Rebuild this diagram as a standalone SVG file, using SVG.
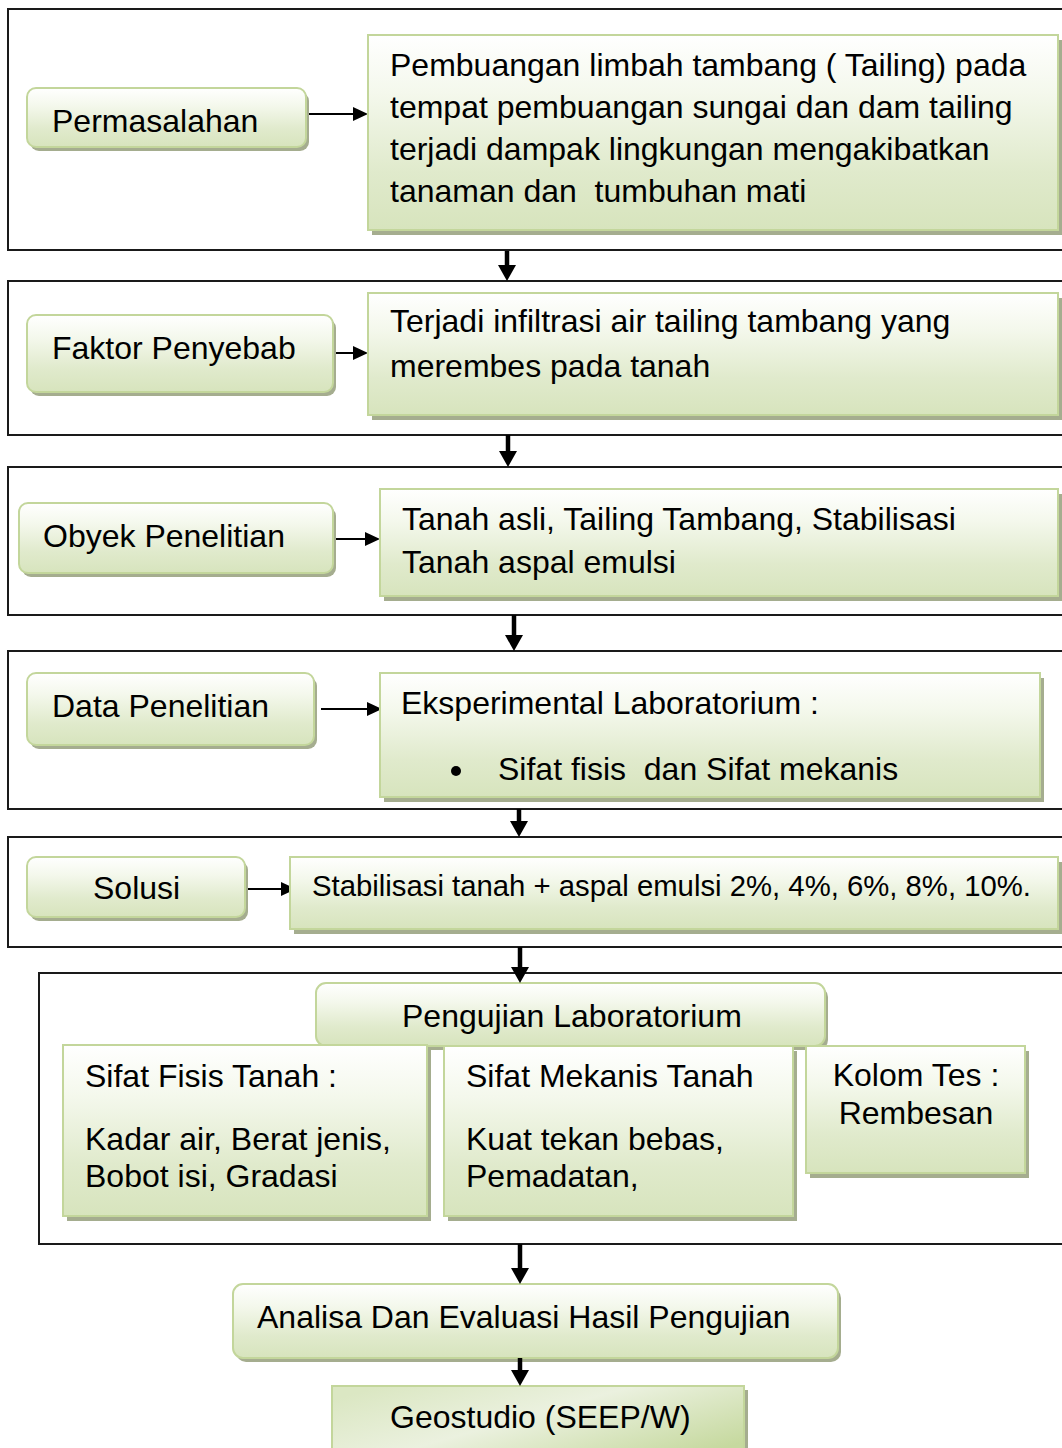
<svg xmlns="http://www.w3.org/2000/svg" width="1062" height="1448" viewBox="0 0 1062 1448">
<defs>
<linearGradient id="g" x1="0" y1="0" x2="0" y2="1">
<stop offset="0" stop-color="#ffffff"/>
<stop offset="0.3" stop-color="#f4f8ec"/>
<stop offset="0.7" stop-color="#e0eacc"/>
<stop offset="1" stop-color="#d7e4bd"/>
</linearGradient>
<linearGradient id="g2" x1="0" y1="0.2" x2="1" y2="0.8">
<stop offset="0" stop-color="#dbe7c3"/>
<stop offset="0.45" stop-color="#ebf1df"/>
<stop offset="1" stop-color="#c6d99f"/>
</linearGradient>
<marker id="ah" markerUnits="userSpaceOnUse" markerWidth="15" markerHeight="14" refX="0" refY="7" orient="auto" overflow="visible">
<path d="M0,0 L15,7 L0,14 z" fill="#000"/>
</marker>
<marker id="ahb" markerUnits="userSpaceOnUse" markerWidth="16" markerHeight="18" refX="0" refY="9" orient="auto" overflow="visible">
<path d="M0,0 L16,9 L0,18 z" fill="#000"/>
</marker>
<style>
.frame{fill:none;stroke:#1a1a1a;stroke-width:2}
.box{fill:url(#g);stroke:#c3d69b;stroke-width:2}
.geo{fill:url(#g2);stroke:#c3d69b;stroke-width:2}
.sh{fill:#a5ad8f}
.t{font-family:"Liberation Sans",Arial,sans-serif;font-size:32px;fill:#000}
.ts{font-family:"Liberation Sans",Arial,sans-serif;font-size:29.3px;fill:#000}
.c{text-anchor:middle}
.thin{stroke:#000;stroke-width:2;fill:none;marker-end:url(#ah)}
.thick{stroke:#000;stroke-width:4.5;fill:none;marker-end:url(#ahb)}
</style>
</defs>
<rect width="1062" height="1448" fill="#fff"/>

<g id="sections">
<rect class="frame" x="8" y="9" width="1070" height="241"/>
<rect class="frame" x="8" y="281" width="1070" height="154"/>
<rect class="frame" x="8" y="467" width="1070" height="148"/>
<rect class="frame" x="8" y="651" width="1070" height="158"/>
<rect class="frame" x="8" y="837" width="1070" height="110"/>
<rect class="frame" x="39" y="973" width="1040" height="271"/>
</g>

<g id="connectors">
<line class="thin" x1="306" y1="114" x2="353" y2="114"/>
<line class="thin" x1="333" y1="353" x2="353" y2="353"/>
<line class="thin" x1="333" y1="539" x2="365" y2="539"/>
<line class="thin" x1="321" y1="709" x2="367" y2="709"/>
<line class="thin" x1="245" y1="889" x2="281" y2="889"/>
<line class="thick" x1="507" y1="251" x2="507" y2="265"/>
<line class="thick" x1="508" y1="435" x2="508" y2="451"/>
<line class="thick" x1="514" y1="615" x2="514" y2="635"/>
<line class="thick" x1="519" y1="809" x2="519" y2="821"/>
</g>

<g id="permasalahan">
<rect class="sh" x="30" y="92" width="279" height="59" rx="9"/>
<rect class="box" x="27" y="88" width="279" height="59" rx="9"/>
<text class="t" x="52" y="132">Permasalahan</text>
</g>
<g id="pembuangan">
<rect class="sh" x="372" y="40" width="690" height="195"/>
<rect class="box" x="368" y="35" width="690" height="195"/>
<text class="t" x="390" y="76">Pembuangan limbah tambang ( Tailing) pada</text>
<text class="t" x="390" y="118">tempat pembuangan sungai dan dam tailing</text>
<text class="t" x="390" y="160">terjadi dampak lingkungan mengakibatkan</text>
<text class="t" x="390" y="202" xml:space="preserve">tanaman dan  tumbuhan mati</text>
</g>

<g id="faktor">
<rect class="sh" x="30" y="319" width="306" height="77" rx="9"/>
<rect class="box" x="27" y="315" width="306" height="77" rx="9"/>
<text class="t" x="52" y="359">Faktor Penyebab</text>
</g>
<g id="infiltrasi">
<rect class="sh" x="372" y="298" width="690" height="122"/>
<rect class="box" x="368" y="293" width="690" height="122"/>
<text class="t" x="390" y="332">Terjadi infiltrasi air tailing tambang yang</text>
<text class="t" x="390" y="377">merembes pada tanah</text>
</g>

<g id="obyek">
<rect class="sh" x="22" y="507" width="314" height="70" rx="9"/>
<rect class="box" x="19" y="503" width="314" height="70" rx="9"/>
<text class="t" x="43" y="547">Obyek Penelitian</text>
</g>
<g id="tanah">
<rect class="sh" x="384" y="494" width="678" height="107"/>
<rect class="box" x="380" y="489" width="678" height="107"/>
<text class="t" x="402" y="530">Tanah asli, Tailing Tambang, Stabilisasi</text>
<text class="t" x="402" y="573">Tanah aspal emulsi</text>
</g>

<g id="data">
<rect class="sh" x="30" y="677" width="287" height="72" rx="9"/>
<rect class="box" x="27" y="673" width="287" height="72" rx="9"/>
<text class="t" x="52" y="717">Data Penelitian</text>
</g>
<g id="eksperimental">
<rect class="sh" x="384" y="678" width="660" height="124"/>
<rect class="box" x="380" y="673" width="660" height="124"/>
<text class="t" x="401" y="714">Eksperimental Laboratorium :</text>
<circle cx="456" cy="771" r="5" fill="#000"/>
<text class="t" x="498" y="780" xml:space="preserve">Sifat fisis  dan Sifat mekanis</text>
</g>

<g id="solusi">
<rect class="sh" x="30" y="861" width="218" height="60" rx="9"/>
<rect class="box" x="27" y="857" width="218" height="60" rx="9"/>
<text class="t" x="93" y="899">Solusi</text>
</g>
<g id="stabilisasi">
<rect class="sh" x="294" y="862" width="768" height="72"/>
<rect class="box" x="290" y="857" width="768" height="72"/>
<text class="ts" x="312" y="896">Stabilisasi tanah + aspal emulsi 2%, 4%, 6%, 8%, 10%.</text>
</g>

<g id="pengujian">
<rect class="sh" x="319" y="987" width="509" height="63" rx="10"/>
<rect class="box" x="316" y="983" width="509" height="63" rx="10"/>
<text class="t" x="402" y="1027">Pengujian Laboratorium</text>
</g>
<g id="fisis">
<rect class="sh" x="67" y="1050" width="364" height="171"/>
<rect class="box" x="63" y="1045" width="364" height="171"/>
<text class="t" x="85" y="1087">Sifat Fisis Tanah :</text>
<text class="t" x="85" y="1150">Kadar air, Berat jenis,</text>
<text class="t" x="85" y="1187">Bobot isi, Gradasi</text>
</g>
<g id="mekanis">
<rect class="sh" x="448" y="1051" width="349" height="170"/>
<rect class="box" x="444" y="1046" width="349" height="170"/>
<text class="t" x="466" y="1087">Sifat Mekanis Tanah</text>
<text class="t" x="466" y="1150">Kuat tekan bebas,</text>
<text class="t" x="466" y="1187">Pemadatan,</text>
</g>
<g id="kolom">
<rect class="sh" x="810" y="1051" width="219" height="127"/>
<rect class="box" x="806" y="1046" width="219" height="127"/>
<text class="t c" x="916" y="1086">Kolom Tes :</text>
<text class="t c" x="916" y="1124">Rembesan</text>
</g>

<g id="analisa">
<rect class="sh" x="236" y="1288" width="605" height="74" rx="10"/>
<rect class="box" x="233" y="1284" width="605" height="74" rx="10"/>
<text class="t" x="257" y="1328">Analisa Dan Evaluasi Hasil Pengujian</text>
</g>
<g id="geostudio">
<rect class="sh" x="336" y="1390" width="412" height="70"/>
<rect class="geo" x="332" y="1386" width="412" height="70"/>
<text class="t" x="390" y="1428">Geostudio (SEEP/W)</text>
</g>

<g id="connectors-lower">
<line class="thick" x1="520" y1="947" x2="520" y2="967"/>
<line class="thick" x1="520" y1="1244" x2="520" y2="1268"/>
<line class="thick" x1="520" y1="1358" x2="520" y2="1370"/>
</g>
</svg>
